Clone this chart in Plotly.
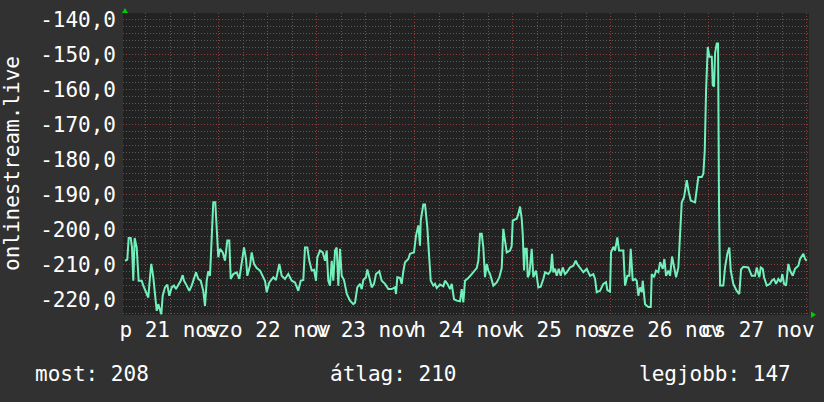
import plotly.graph_objects as go

# ---- data (hours since 21 Nov 00:00, value) ----
hours = [
    0.97, 1.53, 1.87, 2.37, 2.68, 3.00, 3.34, 3.83, 4.32, 5.06, 5.45, 6.29, 6.68, 7.09, 7.41,
    7.90, 8.32, 8.74, 9.13, 9.54, 9.86, 10.21, 10.77, 11.33, 11.82, 12.41, 12.97, 13.46, 14.03,
    14.62, 15.11, 15.43, 16.09, 16.72, 17.31, 17.88, 18.37, 18.93, 19.52, 20.15, 20.57, 20.99,
    21.38, 21.80, 22.21, 22.60, 23.09, 23.44, 23.83, 24.25, 24.91, 25.47, 26.04, 26.52, 26.87,
    27.51, 28.34, 28.98, 29.56, 30.13, 30.62, 30.94, 31.60, 32.01, 32.58, 33.24, 34.05, 34.71,
    35.27, 35.69, 36.33, 37.31, 37.97, 38.78, 39.36, 40.17, 40.98, 41.82, 42.62, 43.43, 44.02,
    44.66, 45.07, 45.64, 46.13, 46.72, 47.28, 47.77, 48.09, 48.75, 49.41, 49.98, 50.39, 50.78,
    51.20, 51.62, 52.01, 52.43, 52.84, 53.24, 53.65, 54.07, 54.63, 55.32, 56.10, 56.91, 57.33,
    57.89, 58.55, 58.97, 59.36, 60.02, 60.34, 60.83, 61.42, 61.98, 62.47, 63.28, 63.87, 64.68,
    65.49, 66.32, 67.13, 67.38, 67.69, 68.35, 68.77, 69.16, 69.58, 70.39, 70.80, 71.78, 72.27,
    72.84, 73.25, 73.43, 74.06, 74.48, 74.72, 75.04, 75.53, 75.88, 76.51, 76.93, 77.35, 78.16,
    78.97, 79.38, 79.95, 80.61, 81.02, 81.59, 82.25, 83.06, 83.47, 83.86, 84.28, 85.09, 85.92,
    86.73, 87.15, 87.54, 87.96, 88.37, 88.76, 89.18, 89.60, 89.99, 90.41, 91.22, 92.05, 92.69,
    93.27, 93.66, 94.08, 94.50, 95.31, 95.72, 95.97, 96.95, 97.34, 97.76, 98.17, 98.42, 98.74,
    98.98, 99.40, 99.64, 100.04, 100.62, 101.02, 101.68, 102.24, 102.83, 103.47, 103.89, 104.69,
    105.28, 105.60, 105.92, 106.34, 106.75, 107.24, 107.73, 108.22, 108.78, 109.20, 110.01,
    110.82, 111.41, 111.80, 112.46, 113.27, 114.10, 114.91, 115.72, 116.14, 116.55, 117.36,
    118.17, 118.83, 119.15, 119.81, 120.06, 120.62, 121.04, 121.60, 122.02, 122.68, 123.07,
    123.49, 124.05, 124.54, 124.88, 125.37, 125.94, 126.35, 126.75, 127.16, 127.58, 127.82,
    128.39, 129.20, 129.79, 130.03, 130.60, 131.09, 131.65, 132.07, 132.73, 133.12, 133.54,
    134.10, 134.52, 135.01, 135.50, 135.99, 136.55, 136.97, 137.38, 137.95, 138.61, 139.10,
    139.59, 140.64, 141.45, 142.29, 142.68, 143.02, 143.34, 143.76, 144.15, 144.74, 144.98,
    145.30, 145.54, 145.96, 146.28, 146.52, 146.77, 147.57, 147.99, 148.55, 149.04, 149.39,
    150.02, 150.85, 151.49, 151.91, 152.47, 153.70, 154.53, 155.34, 155.76, 156.39, 156.74,
    157.23, 157.55, 158.21, 159.02, 159.43, 160.00, 160.49, 161.05, 161.64, 162.03, 162.45,
    162.94, 163.50, 163.92, 164.58, 165.14, 165.95, 166.37, 167.18, 167.60, 168.01,
]
values = [
    -209.0, -208.7, -202.5, -202.5, -205.2, -214.7, -202.5, -205.2, -214.7, -214.7, -216.1, -218.5, -219.5, -213.7, -209.9,
    -213.7, -219.5, -223.3, -221.4, -223.3, -224.3, -219.0, -216.6, -215.8, -219.0, -216.6, -216.1, -217.1, -216.1,
    -214.7, -213.1, -214.7, -216.1, -217.6, -216.1, -214.2, -212.3, -214.2, -214.7, -217.6, -221.9, -214.7,
    -212.0, -213.3, -199.4, -192.3, -192.3, -198.5, -208.0, -205.6, -206.6, -209.0, -203.2, -203.2, -214.2,
    -212.8, -212.3, -214.2, -209.9, -205.2, -208.5, -213.3, -210.4, -206.6, -209.9, -211.1, -211.8, -213.3,
    -214.7, -218.0, -215.2, -213.7, -214.5, -209.9, -213.3, -214.2, -212.8, -214.7, -215.2, -217.6, -214.7,
    -214.5, -205.2, -205.2, -209.0, -211.8, -211.6, -214.7, -208.0, -206.1, -206.6, -209.0, -206.1, -214.7,
    -216.1, -209.0, -214.7, -206.1, -205.2, -216.1, -205.6, -213.3, -214.5, -218.5, -220.4, -221.4, -221.0,
    -216.6, -215.6, -217.1, -214.5, -213.7, -211.5, -213.7, -216.6, -215.6, -212.8, -212.0, -214.7, -215.6,
    -217.1, -217.1, -216.6, -218.5, -213.7, -213.9, -215.6, -212.0, -209.4, -208.5, -207.0, -206.6, -201.8,
    -198.9, -204.7, -197.5, -192.9, -192.9, -196.1, -199.4, -208.5, -214.7, -216.1, -215.6, -216.8, -215.8,
    -216.3, -214.7, -215.6, -217.1, -215.6, -220.0, -220.4, -220.6, -217.1, -220.9, -214.7, -213.9, -212.8,
    -211.5, -211.1, -209.0, -201.3, -201.3, -205.2, -213.7, -209.9, -211.8, -212.8, -216.1, -215.2, -213.7,
    -211.1, -199.9, -203.7, -206.6, -206.1, -204.7, -197.5, -197.0, -195.6, -193.5, -197.0, -201.3, -211.8,
    -205.6, -205.6, -213.7, -212.8, -205.6, -213.7, -211.8, -216.6, -216.4, -214.2, -212.3, -212.8,
    -211.8, -207.0, -212.3, -211.3, -213.3, -211.3, -213.3, -210.9, -212.8, -212.3, -210.9,
    -210.4, -209.0, -210.0, -211.1, -212.3, -211.3, -213.3, -212.8, -214.2, -218.0, -217.6,
    -215.6, -215.1, -217.4, -217.8, -206.6, -205.0, -206.1, -202.3, -206.1, -206.1, -206.1,
    -216.1, -213.3, -213.3, -205.6, -214.7, -214.2, -214.7, -219.0, -216.6, -218.0, -214.7,
    -221.4, -222.2, -222.2, -212.8, -213.7, -211.8, -212.3, -209.4, -211.3, -208.5, -213.3,
    -211.8, -213.3, -207.8, -210.4, -213.7, -210.9, -201.3, -192.3, -190.8, -186.0, -189.4,
    -191.8, -192.3, -185.1, -185.1, -184.1, -177.5, -160.3, -147.9, -150.7, -150.7, -158.8,
    -159.2, -149.7, -146.9, -146.9, -194.2, -216.1, -216.1, -210.9, -207.0, -205.2, -211.8,
    -215.6, -217.6, -218.5, -211.5, -210.7, -210.9, -213.3, -213.3, -210.9, -213.7, -210.9,
    -211.3, -213.7, -216.1, -215.6, -214.7, -214.2, -215.6, -214.2, -215.1, -212.8, -215.6,
    -216.1, -209.9, -211.8, -213.3, -211.3, -210.4, -208.5, -207.0, -208.5, -209.0,
]

day_noon_hours = [12, 36, 60, 84, 108, 132, 156]
day_labels = ["p 21 nov", "szo 22 nov", "v 23 nov", "h 24 nov", "k 25 nov", "sze 26 nov", "cs 27 nov"]

y_tick_values = [-140, -150, -160, -170, -180, -190, -200, -210, -220]
y_tick_labels = ["-140,0", "-150,0", "-160,0", "-170,0", "-180,0", "-190,0", "-200,0", "-210,0", "-220,0"]

series_name = "onlinestream.live"
summary_names = ["most", "átlag", "legjobb"]
summary_values = [208, 210, 147]

# ---- style ----
FONT = "DejaVu Sans Mono"
FS = 21
BG = "#313131"
PLOT_BG = "#222222"
MINOR_GRID = "#5a5a5a"
MAJOR_GRID = "#8c3c3c"
LINE = "#72f0bb"
X_RANGE = [0.48, 168.56]
Y_RANGE = [-224.5, -138.2]

fig = go.Figure()
fig.add_trace(go.Scatter(
    x=hours, y=values, mode="lines",
    line=dict(color=LINE, width=2),
    showlegend=False, hoverinfo="skip",
))
# invisible trace to carry the label axis
fig.add_trace(go.Scatter(
    x=day_noon_hours, y=[None] * len(day_noon_hours), xaxis="x2",
    mode="markers", showlegend=False, hoverinfo="skip",
))

fig.update_layout(
    width=824, height=402,
    margin=dict(l=123, r=15, t=13, b=87, autoexpand=False),
    paper_bgcolor=BG, plot_bgcolor=PLOT_BG,
    font=dict(family=FONT, size=FS, color="#ffffff"),
    xaxis=dict(
        range=X_RANGE, tickmode="linear", tick0=0, dtick=24,
        showticklabels=False, ticks="", showline=False, zeroline=False,
        showgrid=True, gridcolor=MAJOR_GRID, griddash="1px,2px", gridwidth=1,
        minor=dict(tickmode="linear", tick0=0, dtick=6, showgrid=True,
                   gridcolor=MINOR_GRID, griddash="1px,2px", gridwidth=1),
        automargin=False,
    ),
    xaxis2=dict(
        range=X_RANGE, overlaying="x", anchor="y", side="bottom",
        tickmode="array", tickvals=day_noon_hours, ticktext=day_labels,
        tickangle=0, automargin=False,
        showgrid=False, zeroline=False, ticks="", showline=False,
        tickfont=dict(family=FONT, size=FS, color="#ffffff"),
    ),
    yaxis=dict(
        range=Y_RANGE, tickmode="array", tickvals=y_tick_values, ticktext=y_tick_labels,
        ticks="", showline=False, zeroline=False, automargin=False,
        showgrid=True, gridcolor=MAJOR_GRID, griddash="1px,2px", gridwidth=1,
        minor=dict(tickmode="linear", tick0=-220, dtick=2, showgrid=True,
                   gridcolor=MINOR_GRID, griddash="1px,2px", gridwidth=1),
        tickfont=dict(family=FONT, size=FS, color="#ffffff"),
        ticklabelstandoff=6,
    ),
)

# y-axis title (rotated)
fig.add_annotation(
    text=series_name, xref="paper", yref="paper", x=-0.1618, y=0.5,
    xanchor="center", yanchor="middle", textangle=-90, showarrow=False,
    font=dict(family=FONT, size=FS, color="#ffffff"),
)

# summary line under the chart
summary_x = [-0.1312, 0.2988, 0.7493]
for name, val, sx in zip(summary_names, summary_values, summary_x):
    fig.add_annotation(
        text=f"{name}: {val}", xref="paper", yref="paper", x=sx, y=-0.195,
        xanchor="left", yanchor="middle", showarrow=False,
        font=dict(family=FONT, size=FS, color="#ffffff"),
    )

# green axis arrows
fig.add_shape(type="path", xref="paper", yref="paper",
              path="M -0.0015,1.0 L 0.0029,1.0166 L 0.0073,1.0 Z",
              fillcolor="#00cc00", line=dict(width=0))
fig.add_shape(type="path", xref="paper", yref="paper",
              path="M 1.0029,0.0116 L 1.0102,0.001 L 1.0029,-0.0099 Z",
              fillcolor="#00cc00", line=dict(width=0))

fig.write_html("out.html", config={"displayModeBar": False},
               post_script="document.body.style.margin='0';")
